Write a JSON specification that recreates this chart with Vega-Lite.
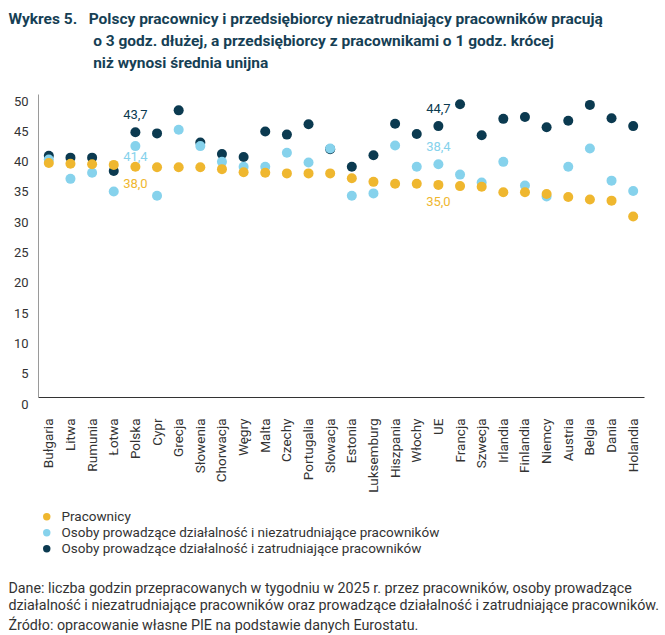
{
  "$schema": "https://vega.github.io/schema/vega-lite/v6.json",
  "background": "white",
  "padding": {"left": 8, "top": 11, "right": 5, "bottom": 5},
  "config": {
    "view": {"stroke": null},
    "font": "Roboto",
    "locale": {"number": {"decimal": ",", "thousands": " ", "grouping": [3], "currency": ["", " zł"]}}
  },
  "title": {
    "text": [
      "Wykres 5.\u00a0\u00a0\u00a0Polscy pracownicy i przedsiębiorcy niezatrudniający pracowników pracują",
      "\u200b\u00a0\u00a0\u00a0\u00a0\u00a0\u00a0\u00a0\u00a0\u00a0\u00a0\u00a0\u00a0\u00a0\u00a0\u00a0\u00a0\u00a0\u00a0\u00a0\u00a0\u00a0\u00a0o 3 godz. dłużej, a przedsiębiorcy z pracownikami o 1 godz. krócej",
      "\u200b\u00a0\u00a0\u00a0\u00a0\u00a0\u00a0\u00a0\u00a0\u00a0\u00a0\u00a0\u00a0\u00a0\u00a0\u00a0\u00a0\u00a0\u00a0\u00a0\u00a0\u00a0\u00a0niż wynosi średnia unijna"
    ],
    "anchor": "start",
    "font": "Roboto",
    "fontSize": 15.5,
    "fontWeight": "bold",
    "color": "#163F55",
    "lineHeight": 22,
    "dx": 0,
    "offset": 23
  },
  "vconcat": [
    {
      "width": 606,
      "height": 303,
      "title": {
        "text": [
          "Dane: liczba godzin przepracowanych w tygodniu w 2025 r. przez pracowników, osoby prowadzące",
          "działalność i niezatrudniające pracowników oraz prowadzące działalność i zatrudniające pracowników."
        ],
        "subtitle": "Źródło: opracowanie własne PIE na podstawie danych Eurostatu.",
        "orient": "bottom",
        "anchor": "start",
        "frame": "bounds",
        "font": "Roboto",
        "fontSize": 14.3,
        "fontWeight": "normal",
        "color": "#333333",
        "lineHeight": 17,
        "subtitleFont": "Roboto",
        "subtitleFontSize": 14.3,
        "subtitleColor": "#333333",
        "subtitlePadding": 5,
        "offset": 90,
        "dx": -5
      },
      "data": {
        "values": [
          {"kraj": "Bułgaria", "grupa": "Osoby prowadzące działalność i zatrudniające pracowników", "godziny": 39.8},
          {"kraj": "Litwa", "grupa": "Osoby prowadzące działalność i zatrudniające pracowników", "godziny": 39.5},
          {"kraj": "Rumunia", "grupa": "Osoby prowadzące działalność i zatrudniające pracowników", "godziny": 39.5},
          {"kraj": "Łotwa", "grupa": "Osoby prowadzące działalność i zatrudniające pracowników", "godziny": 37.3},
          {"kraj": "Polska", "grupa": "Osoby prowadzące działalność i zatrudniające pracowników", "godziny": 43.7},
          {"kraj": "Cypr", "grupa": "Osoby prowadzące działalność i zatrudniające pracowników", "godziny": 43.5},
          {"kraj": "Grecja", "grupa": "Osoby prowadzące działalność i zatrudniające pracowników", "godziny": 47.3},
          {"kraj": "Słowenia", "grupa": "Osoby prowadzące działalność i zatrudniające pracowników", "godziny": 42.0},
          {"kraj": "Chorwacja", "grupa": "Osoby prowadzące działalność i zatrudniające pracowników", "godziny": 40.1},
          {"kraj": "Węgry", "grupa": "Osoby prowadzące działalność i zatrudniające pracowników", "godziny": 39.6},
          {"kraj": "Malta", "grupa": "Osoby prowadzące działalność i zatrudniające pracowników", "godziny": 43.8},
          {"kraj": "Czechy", "grupa": "Osoby prowadzące działalność i zatrudniające pracowników", "godziny": 43.3},
          {"kraj": "Portugalia", "grupa": "Osoby prowadzące działalność i zatrudniające pracowników", "godziny": 45.0},
          {"kraj": "Słowacja", "grupa": "Osoby prowadzące działalność i zatrudniające pracowników", "godziny": 40.9},
          {"kraj": "Estonia", "grupa": "Osoby prowadzące działalność i zatrudniające pracowników", "godziny": 38.0},
          {"kraj": "Luksemburg", "grupa": "Osoby prowadzące działalność i zatrudniające pracowników", "godziny": 39.9},
          {"kraj": "Hiszpania", "grupa": "Osoby prowadzące działalność i zatrudniające pracowników", "godziny": 45.1},
          {"kraj": "Włochy", "grupa": "Osoby prowadzące działalność i zatrudniające pracowników", "godziny": 43.4},
          {"kraj": "UE", "grupa": "Osoby prowadzące działalność i zatrudniające pracowników", "godziny": 44.7},
          {"kraj": "Francja", "grupa": "Osoby prowadzące działalność i zatrudniające pracowników", "godziny": 48.3},
          {"kraj": "Szwecja", "grupa": "Osoby prowadzące działalność i zatrudniające pracowników", "godziny": 43.2},
          {"kraj": "Irlandia", "grupa": "Osoby prowadzące działalność i zatrudniające pracowników", "godziny": 45.9},
          {"kraj": "Finlandia", "grupa": "Osoby prowadzące działalność i zatrudniające pracowników", "godziny": 46.2},
          {"kraj": "Niemcy", "grupa": "Osoby prowadzące działalność i zatrudniające pracowników", "godziny": 44.5},
          {"kraj": "Austria", "grupa": "Osoby prowadzące działalność i zatrudniające pracowników", "godziny": 45.6},
          {"kraj": "Belgia", "grupa": "Osoby prowadzące działalność i zatrudniające pracowników", "godziny": 48.2},
          {"kraj": "Dania", "grupa": "Osoby prowadzące działalność i zatrudniające pracowników", "godziny": 46.0},
          {"kraj": "Holandia", "grupa": "Osoby prowadzące działalność i zatrudniające pracowników", "godziny": 44.7},

          {"kraj": "Bułgaria", "grupa": "Osoby prowadzące działalność i niezatrudniające pracowników", "godziny": 39.2},
          {"kraj": "Litwa", "grupa": "Osoby prowadzące działalność i niezatrudniające pracowników", "godziny": 36.0},
          {"kraj": "Rumunia", "grupa": "Osoby prowadzące działalność i niezatrudniające pracowników", "godziny": 37.0},
          {"kraj": "Łotwa", "grupa": "Osoby prowadzące działalność i niezatrudniające pracowników", "godziny": 33.9},
          {"kraj": "Polska", "grupa": "Osoby prowadzące działalność i niezatrudniające pracowników", "godziny": 41.4},
          {"kraj": "Cypr", "grupa": "Osoby prowadzące działalność i niezatrudniające pracowników", "godziny": 33.2},
          {"kraj": "Grecja", "grupa": "Osoby prowadzące działalność i niezatrudniające pracowników", "godziny": 44.1},
          {"kraj": "Słowenia", "grupa": "Osoby prowadzące działalność i niezatrudniające pracowników", "godziny": 41.4},
          {"kraj": "Chorwacja", "grupa": "Osoby prowadzące działalność i niezatrudniające pracowników", "godziny": 38.8},
          {"kraj": "Węgry", "grupa": "Osoby prowadzące działalność i niezatrudniające pracowników", "godziny": 38.0},
          {"kraj": "Malta", "grupa": "Osoby prowadzące działalność i niezatrudniające pracowników", "godziny": 38.0},
          {"kraj": "Czechy", "grupa": "Osoby prowadzące działalność i niezatrudniające pracowników", "godziny": 40.3},
          {"kraj": "Portugalia", "grupa": "Osoby prowadzące działalność i niezatrudniające pracowników", "godziny": 38.7},
          {"kraj": "Słowacja", "grupa": "Osoby prowadzące działalność i niezatrudniające pracowników", "godziny": 41.0},
          {"kraj": "Estonia", "grupa": "Osoby prowadzące działalność i niezatrudniające pracowników", "godziny": 33.2},
          {"kraj": "Luksemburg", "grupa": "Osoby prowadzące działalność i niezatrudniające pracowników", "godziny": 33.6},
          {"kraj": "Hiszpania", "grupa": "Osoby prowadzące działalność i niezatrudniające pracowników", "godziny": 41.5},
          {"kraj": "Włochy", "grupa": "Osoby prowadzące działalność i niezatrudniające pracowników", "godziny": 38.0},
          {"kraj": "UE", "grupa": "Osoby prowadzące działalność i niezatrudniające pracowników", "godziny": 38.4},
          {"kraj": "Francja", "grupa": "Osoby prowadzące działalność i niezatrudniające pracowników", "godziny": 36.7},
          {"kraj": "Szwecja", "grupa": "Osoby prowadzące działalność i niezatrudniające pracowników", "godziny": 35.4},
          {"kraj": "Irlandia", "grupa": "Osoby prowadzące działalność i niezatrudniające pracowników", "godziny": 38.8},
          {"kraj": "Finlandia", "grupa": "Osoby prowadzące działalność i niezatrudniające pracowników", "godziny": 34.9},
          {"kraj": "Niemcy", "grupa": "Osoby prowadzące działalność i niezatrudniające pracowników", "godziny": 33.1},
          {"kraj": "Austria", "grupa": "Osoby prowadzące działalność i niezatrudniające pracowników", "godziny": 38.0},
          {"kraj": "Belgia", "grupa": "Osoby prowadzące działalność i niezatrudniające pracowników", "godziny": 41.0},
          {"kraj": "Dania", "grupa": "Osoby prowadzące działalność i niezatrudniające pracowników", "godziny": 35.7},
          {"kraj": "Holandia", "grupa": "Osoby prowadzące działalność i niezatrudniające pracowników", "godziny": 34.0},

          {"kraj": "Bułgaria", "grupa": "Pracownicy", "godziny": 38.6},
          {"kraj": "Litwa", "grupa": "Pracownicy", "godziny": 38.5},
          {"kraj": "Rumunia", "grupa": "Pracownicy", "godziny": 38.4},
          {"kraj": "Łotwa", "grupa": "Pracownicy", "godziny": 38.3},
          {"kraj": "Polska", "grupa": "Pracownicy", "godziny": 38.0},
          {"kraj": "Cypr", "grupa": "Pracownicy", "godziny": 37.9},
          {"kraj": "Grecja", "grupa": "Pracownicy", "godziny": 37.9},
          {"kraj": "Słowenia", "grupa": "Pracownicy", "godziny": 37.9},
          {"kraj": "Chorwacja", "grupa": "Pracownicy", "godziny": 37.6},
          {"kraj": "Węgry", "grupa": "Pracownicy", "godziny": 37.1},
          {"kraj": "Malta", "grupa": "Pracownicy", "godziny": 37.0},
          {"kraj": "Czechy", "grupa": "Pracownicy", "godziny": 36.9},
          {"kraj": "Portugalia", "grupa": "Pracownicy", "godziny": 36.9},
          {"kraj": "Słowacja", "grupa": "Pracownicy", "godziny": 36.9},
          {"kraj": "Estonia", "grupa": "Pracownicy", "godziny": 36.1},
          {"kraj": "Luksemburg", "grupa": "Pracownicy", "godziny": 35.5},
          {"kraj": "Hiszpania", "grupa": "Pracownicy", "godziny": 35.2},
          {"kraj": "Włochy", "grupa": "Pracownicy", "godziny": 35.2},
          {"kraj": "UE", "grupa": "Pracownicy", "godziny": 35.0},
          {"kraj": "Francja", "grupa": "Pracownicy", "godziny": 34.8},
          {"kraj": "Szwecja", "grupa": "Pracownicy", "godziny": 34.7},
          {"kraj": "Irlandia", "grupa": "Pracownicy", "godziny": 33.8},
          {"kraj": "Finlandia", "grupa": "Pracownicy", "godziny": 33.8},
          {"kraj": "Niemcy", "grupa": "Pracownicy", "godziny": 33.5},
          {"kraj": "Austria", "grupa": "Pracownicy", "godziny": 33.0},
          {"kraj": "Belgia", "grupa": "Pracownicy", "godziny": 32.6},
          {"kraj": "Dania", "grupa": "Pracownicy", "godziny": 32.4},
          {"kraj": "Holandia", "grupa": "Pracownicy", "godziny": 29.8}
        ]
      },
      "encoding": {
        "x": {
          "field": "kraj",
          "type": "nominal",
          "sort": null,
          "scale": {"type": "point", "padding": 0.5},
          "axis": {
            "title": null,
            "labelAngle": -90,
            "labelAlign": "right",
            "labelBaseline": "middle",
            "labelPadding": 21,
            "labelFontSize": 13.5,
            "labelColor": "#333333",
            "ticks": false,
            "domainColor": "#333333",
            "domainWidth": 1
          }
        },
        "y": {
          "field": "godziny",
          "type": "quantitative",
          "scale": {"domain": [0, 50], "nice": false},
          "axis": {
            "title": null,
            "values": [0, 5, 10, 15, 20, 25, 30, 35, 40, 45, 50],
            "grid": false,
            "ticks": false,
            "domainColor": "#9a9a9a",
            "labelFontSize": 13,
            "labelColor": "#333333",
            "labelPadding": 10,
            "labelOffset": 7
          }
        },
        "color": {
          "field": "grupa",
          "type": "nominal",
          "scale": {
            "domain": [
              "Pracownicy",
              "Osoby prowadzące działalność i niezatrudniające pracowników",
              "Osoby prowadzące działalność i zatrudniające pracowników"
            ],
            "range": ["#EFB72F", "#86D2EC", "#0B3A50"]
          },
          "legend": {
            "title": null,
            "orient": "none",
            "legendX": 2,
            "legendY": 416,
            "symbolType": "circle",
            "symbolSize": 55,
            "symbolStrokeWidth": 0,
            "labelFontSize": 13.5,
            "labelColor": "#333333",
            "labelOffset": 8,
            "labelLimit": 500,
            "rowPadding": 1
          }
        }
      },
      "layer": [
        {
          "mark": {"type": "circle", "size": 100, "opacity": 1}
        },
        {
          "transform": [
            {"filter": {"or": [
              {"and": [{"field": "kraj", "oneOf": ["Polska", "UE"]}, {"field": "grupa", "equal": "Osoby prowadzące działalność i zatrudniające pracowników"}]},
              {"and": [{"field": "kraj", "equal": "UE"}, {"field": "grupa", "equal": "Osoby prowadzące działalność i niezatrudniające pracowników"}]}
            ]}}
          ],
          "mark": {"type": "text", "dy": -17, "fontSize": 13},
          "encoding": {
            "text": {"field": "godziny", "type": "quantitative", "format": ".1f"},
            "color": {"field": "grupa", "type": "nominal", "legend": null}
          }
        },
        {
          "transform": [
            {"filter": {"and": [{"field": "kraj", "equal": "Polska"}, {"field": "grupa", "equal": "Osoby prowadzące działalność i niezatrudniające pracowników"}]}}
          ],
          "mark": {"type": "text", "dy": 11, "fontSize": 13},
          "encoding": {
            "text": {"field": "godziny", "type": "quantitative", "format": ".1f"},
            "color": {"field": "grupa", "type": "nominal", "legend": null}
          }
        },
        {
          "transform": [
            {"filter": {"and": [{"field": "kraj", "oneOf": ["Polska", "UE"]}, {"field": "grupa", "equal": "Pracownicy"}]}}
          ],
          "mark": {"type": "text", "dy": 17, "fontSize": 13},
          "encoding": {
            "text": {"field": "godziny", "type": "quantitative", "format": ".1f"},
            "color": {"field": "grupa", "type": "nominal", "legend": null}
          }
        }
      ]
    }
  ]
}
